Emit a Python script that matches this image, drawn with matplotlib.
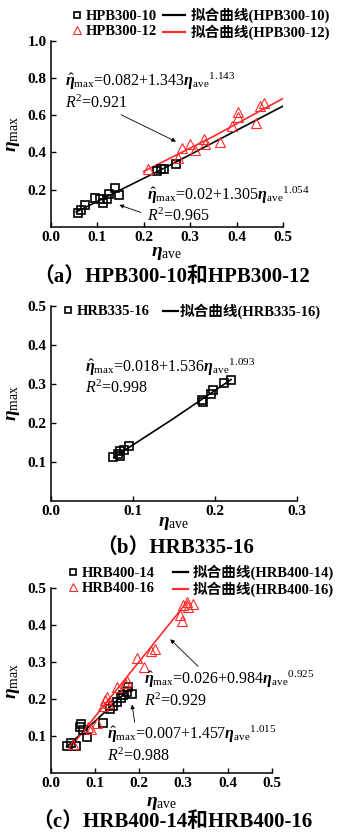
import matplotlib
matplotlib.use("Agg")
import matplotlib.pyplot as plt
from matplotlib.lines import Line2D

plt.rcParams['font.family'] = ['Liberation Serif', 'Noto Sans CJK SC']
plt.rcParams['mathtext.fontset'] = 'custom'
plt.rcParams['mathtext.rm'] = 'Liberation Serif'
plt.rcParams['mathtext.it'] = 'Liberation Serif:italic'
plt.rcParams['mathtext.bf'] = 'Liberation Serif:italic:bold'

RED = '#ff2a2a'

# (a) HPB300-10 / HPB300-12
a_sq_x = [0.059, 0.065, 0.074, 0.095, 0.106, 0.113, 0.121, 0.126, 0.139, 0.148, 0.228, 0.237, 0.243, 0.269]
a_sq_y = [0.077, 0.091, 0.119, 0.157, 0.148, 0.127, 0.152, 0.175, 0.207, 0.171, 0.300, 0.309, 0.314, 0.339]
a_tri_x = [0.210, 0.275, 0.282, 0.300, 0.311, 0.329, 0.333, 0.365, 0.390, 0.403, 0.404, 0.442, 0.451, 0.460]
a_tri_y = [0.314, 0.371, 0.425, 0.443, 0.412, 0.470, 0.443, 0.457, 0.541, 0.591, 0.618, 0.559, 0.648, 0.666]
a_fit10_x = [0.055, 0.25, 0.5]
a_fit10_y = [0.081, 0.323, 0.649]
a_fit12_x = [0.2, 0.35, 0.5]
a_fit12_y = [0.298, 0.486, 0.690]

# (b) HRB335-16
b_x = [0.0764, 0.0825, 0.0846, 0.0846, 0.0894, 0.0959, 0.185, 0.186, 0.196, 0.198, 0.211, 0.220]
b_y = [0.112, 0.119, 0.114, 0.127, 0.131, 0.141, 0.258, 0.253, 0.273, 0.285, 0.301, 0.309]
b_fit_x = [0.077, 0.15, 0.22]
b_fit_y = [0.111, 0.211, 0.311]

# (c) HRB400-14 / HRB400-16
c_sq_x = [0.038, 0.046, 0.057, 0.066, 0.068, 0.072, 0.081, 0.119, 0.134, 0.142, 0.149, 0.159, 0.164, 0.172, 0.176, 0.185]
c_sq_y = [0.072, 0.081, 0.072, 0.125, 0.132, 0.116, 0.097, 0.134, 0.172, 0.181, 0.192, 0.202, 0.211, 0.220, 0.231, 0.213]
c_tri_x = [0.051, 0.085, 0.091, 0.104, 0.119, 0.123, 0.127, 0.130, 0.149, 0.168, 0.172, 0.195, 0.210,
           0.228, 0.236, 0.293, 0.296, 0.300, 0.308, 0.311, 0.323]
c_tri_y = [0.078, 0.125, 0.118, 0.135, 0.181, 0.197, 0.204, 0.188, 0.233, 0.242, 0.249, 0.310, 0.286,
           0.331, 0.335, 0.428, 0.412, 0.455, 0.464, 0.450, 0.457]
c_fit14_x = [0.036, 0.11, 0.18]
c_fit14_y = [0.070, 0.150, 0.230]
c_fit16_x = [0.049, 0.18, 0.31]
c_fit16_y = [0.075, 0.271, 0.465]

fig = plt.figure(figsize=(3.37, 8.34), dpi=100)
W, H = 337.0, 834.0


def make_axes(left, right, top, bottom):
    ax = fig.add_axes([left / W, 1 - bottom / H, (right - left) / W, (bottom - top) / H])
    for s in ['top', 'right']:
        ax.spines[s].set_visible(False)
    for s in ['left', 'bottom']:
        ax.spines[s].set_linewidth(1.1)
    ax.tick_params(direction='in', length=3.5, width=1.0, labelsize=11, pad=3)
    return ax


def set_ticks(ax, xt, yt):
    ax.set_xticks(xt)
    ax.set_xticklabels(['%.1f' % v for v in xt], fontweight='bold')
    ax.set_yticks(yt)
    ax.set_yticklabels(['%.1f' % v for v in yt], fontweight='bold')


def squares(ax, x, y):
    ax.plot(x, y, 's', ms=5.5, mfc='none', mec='k', mew=1.2, zorder=3)


def triangles(ax, x, y):
    ax.plot(x, y, '^', ms=6.5, mfc='none', mec=RED, mew=0.8, zorder=3)


def labels(ax, xl_y, yl_x):
    ax.set_xlabel(r'$\mathbf{\eta}_{\rm ave}$', fontsize=14, va='center')
    ax.set_ylabel(r'$\mathbf{\eta}_{\rm max}$', fontsize=14, va='center')
    ax.xaxis.set_label_coords(0.5, xl_y)
    ax.yaxis.set_label_coords(yl_x, 0.5)


def formula(ax, x, y, a, b, c, r2):
    s = (r'$\hat{\mathbf{\eta}}_{\rm max}$=' + a + '+' + b + r'$\mathbf{\eta}_{\rm ave}{}^{' + c + '}$'
         + '\n' + r'$R^2$=' + r2)
    ax.text(x, y, s, fontsize=11.5, va='center', ha='left', linespacing=1.15)


def arrow(ax, xy_from, xy_to):
    ax.annotate('', xy=xy_to, xytext=xy_from,
                arrowprops=dict(arrowstyle='-|>', color='k', lw=0.6, mutation_scale=6))


def legends(ax, mk_handles, mk_labels, ln_handles, ln_labels, mk_left, ln_left, yc, ln_len, ln_pad):
    leg1 = ax.legend(mk_handles, mk_labels, loc='center left', bbox_to_anchor=(mk_left / W, 1 - yc / H),
                     bbox_transform=fig.transFigure, frameon=False, borderpad=0, borderaxespad=0,
                     handlelength=0.6, handletextpad=0.3, labelspacing=0.12,
                     prop={'size': 10.5, 'weight': 'bold'})
    ax.add_artist(leg1)
    ax.legend(ln_handles, ln_labels, loc='center left', bbox_to_anchor=(ln_left / W, 1 - yc / H),
              bbox_transform=fig.transFigure, frameon=False, borderpad=0, borderaxespad=0,
              handlelength=ln_len, handletextpad=ln_pad, labelspacing=0.12,
              prop={'size': 10.5, 'weight': 'bold'})


sq_h = Line2D([], [], ls='none', marker='s', ms=4.5, mfc='none', mec='k', mew=1.2)
tri_h = Line2D([], [], ls='none', marker='^', ms=5.5, mfc='none', mec=RED, mew=0.8)
k_h = Line2D([], [], color='k', lw=1.6)
r_h = Line2D([], [], color=RED, lw=1.6)

# ---------------- (a)
ax = make_axes(50.7, 283, 40.7, 227)
squares(ax, a_sq_x, a_sq_y)
triangles(ax, a_tri_x, a_tri_y)
ax.plot(a_fit10_x, a_fit10_y, color='k', lw=1.2, zorder=2)
ax.plot(a_fit12_x, a_fit12_y, color=RED, lw=1.2, zorder=2)
ax.set_xlim(0, 0.5)
ax.set_ylim(0, 1.0)
set_ticks(ax, [0.0, 0.1, 0.2, 0.3, 0.4, 0.5], [0.2, 0.4, 0.6, 0.8, 1.0])
labels(ax, -0.14, -0.162)
formula(ax, 0.031, 0.728, '0.082', '1.343', '1.143', '0.921')
formula(ax, 0.207, 0.118, '0.02', '1.305', '1.054', '0.965')
arrow(ax, (0.146, 0.609), (0.275, 0.452))
arrow(ax, (0.200, 0.073), (0.142, 0.123))
legends(ax, [sq_h, tri_h], ['HPB300-10', 'HPB300-12'], [k_h, r_h],
        ['拟合曲线(HPB300-10)', '拟合曲线(HPB300-12)'], 73, 163, 24, 1.5, 0.4)
fig.text(172 / W, 1 - 277 / H, '（a）HPB300-10和HPB300-12', fontsize=15, fontweight='bold',
         ha='center', va='center')

# ---------------- (b)
ax = make_axes(50.7, 296.7, 306, 500.5)
squares(ax, b_x, b_y)
ax.plot(b_fit_x, b_fit_y, color='k', lw=1.2, zorder=2)
ax.set_xlim(0, 0.3)
ax.set_ylim(0, 0.5)
set_ticks(ax, [0.0, 0.1, 0.2, 0.3], [0.1, 0.2, 0.3, 0.4, 0.5])
labels(ax, -0.116, -0.153)
formula(ax, 0.042, 0.318, '0.018', '1.536', '1.093', '0.998')
legends(ax, [sq_h], ['HRB335-16'], [k_h], ['拟合曲线(HRB335-16)'], 64, 163, 311.7, 1.05, 0.1)
fig.text(175 / W, 1 - 548 / H, '（b）HRB335-16', fontsize=15, fontweight='bold',
         ha='center', va='center')

# ---------------- (c)
ax = make_axes(50.7, 271.7, 588.3, 772.6)
squares(ax, c_sq_x, c_sq_y)
triangles(ax, c_tri_x, c_tri_y)
ax.plot(c_fit14_x, c_fit14_y, color='k', lw=1.2, zorder=2)
ax.plot(c_fit16_x, c_fit16_y, color=RED, lw=1.2, zorder=2)
ax.set_xlim(0, 0.5)
ax.set_ylim(0, 0.5)
set_ticks(ax, [0.0, 0.1, 0.2, 0.3, 0.4, 0.5], [0.1, 0.2, 0.3, 0.4, 0.5])
labels(ax, -0.167, -0.17)
formula(ax, 0.21, 0.226, '0.026', '0.984', '0.925', '0.929')
formula(ax, 0.128, 0.077, '0.007', '1.457', '1.015', '0.988')
arrow(ax, (0.338, 0.283), (0.266, 0.367))
arrow(ax, (0.191, 0.129), (0.183, 0.192))
legends(ax, [sq_h, tri_h], ['HRB400-14', 'HRB400-16'], [k_h, r_h],
        ['拟合曲线(HRB400-14)', '拟合曲线(HRB400-16)'], 69, 173, 580.8, 1.05, 0.3)
fig.text(172 / W, 1 - 822 / H, '（c）HRB400-14和HRB400-16', fontsize=15, fontweight='bold',
         ha='center', va='center')

fig.savefig('out.png', dpi=100)
